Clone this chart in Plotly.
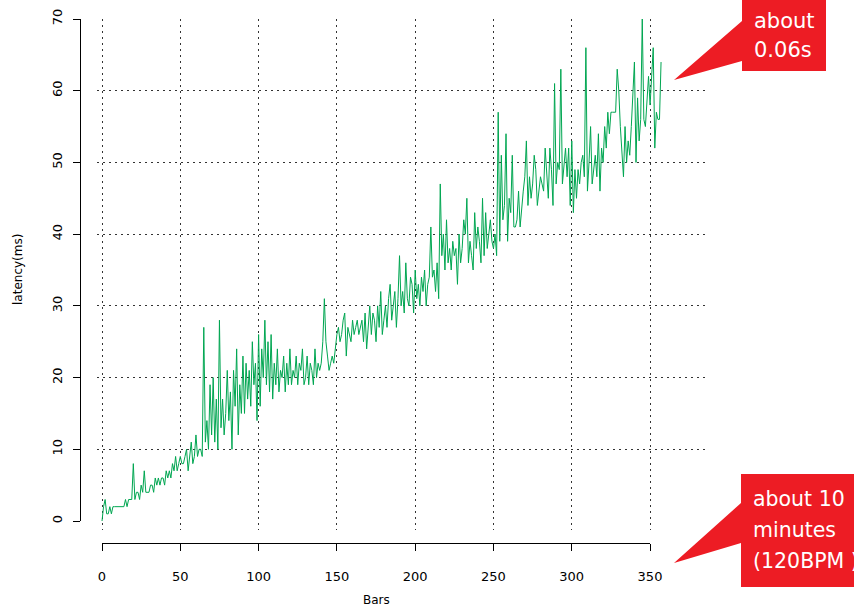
import plotly.graph_objects as go

# ---------------- data ----------------
latency = [
    0, 2, 3, 1, 1, 2, 1, 2, 2, 2,
    2, 2, 2, 2, 2, 3, 2, 3, 3, 3,
    8, 3, 4, 4, 3, 5, 4, 7, 4, 4,
    4, 5, 5, 4, 6, 5, 6, 5, 6, 6,
    5, 7, 6, 7, 6, 8, 7, 9, 7, 8,
    9, 8, 8, 9, 10, 7, 9, 11, 8, 9,
    12, 9, 10, 10, 9, 27, 11, 14, 10, 19,
    12, 20, 11, 17, 10, 28, 13, 17, 12, 15,
    21, 14, 18, 10, 21, 16, 24, 12, 19, 15,
    23, 15, 22, 17, 21, 16, 25, 19, 22, 14,
    26, 16, 24, 20, 28, 19, 25, 18, 26, 17,
    22, 19, 24, 18, 21, 20, 23, 18, 22, 19,
    24, 19, 21, 20, 23, 19, 22, 21, 24, 19,
    20, 23, 19, 22, 21, 19, 24, 20, 22, 21,
    22, 25, 31, 25, 23, 21, 22, 23, 22, 24,
    26, 27, 25, 26, 28, 29, 23, 27, 26, 25,
    28, 26, 27, 28, 26, 27, 28, 25, 29, 24,
    27, 30, 26, 29, 28, 25, 30, 27, 32, 26,
    28, 30, 27, 31, 33, 28, 30, 32, 27, 31,
    37, 30, 32, 29, 36, 31, 30, 34, 33, 29,
    35, 31, 33, 30, 34, 32, 35, 30, 33, 34,
    41, 34, 35, 32, 36, 31, 47, 37, 40, 35,
    42, 36, 38, 35, 39, 37, 38, 33, 40, 36,
    38, 42, 40, 45, 36, 39, 37, 35, 43, 38,
    41, 39, 36, 45, 37, 43, 38, 40, 42, 39,
    38, 40, 37, 57, 39, 51, 42, 44, 54, 39,
    45, 43, 51, 41, 41, 42, 46, 41, 44, 46,
    48, 53, 44, 48, 45, 47, 51, 49, 44, 46,
    48, 47, 46, 52, 49, 45, 52, 49, 44, 61,
    47, 50, 49, 63, 47, 50, 52, 48, 52, 44,
    53, 43, 49, 45, 49, 47, 50, 51, 48, 66,
    46, 50, 55, 47, 49, 51, 48, 54, 46, 52,
    50, 55, 52, 57, 54, 57, 57, 57, 57, 63,
    60, 55, 52, 48, 55, 50, 53, 51, 55, 60,
    64, 50, 59, 53, 56, 70, 56, 55, 59, 62,
    58, 62, 66, 52, 57, 56, 56, 64,
]
bars = list(range(len(latency)))

x_ticks = [0, 50, 100, 150, 200, 250, 300, 350]
y_ticks = [0, 10, 20, 30, 40, 50, 60, 70]
grid_y = [10, 20, 30, 40, 50, 60]

callout_top = ["about", "0.06s"]
callout_bottom = ["about 10", "minutes", "(120BPM )"]

# ---------------- geometry (pixels) ----------------
W, H = 854, 613
ML, MR, MT, MB = 80, 148, 19, 70
PW, PH = W - ML - MR, H - MT - MB


def fx(px):
    return (px - ML) / PW


def fy(py):
    return (H - MB - py) / PH


GREEN = "#00a651"
RED = "#ed1c24"
FONT = "DejaVu Sans"

fig = go.Figure()
fig.add_trace(go.Scatter(
    x=bars, y=latency, mode="lines",
    line=dict(color=GREEN, width=1), hoverinfo="skip", showlegend=False,
    xaxis="x", yaxis="y",
))
# helper (invisible) trace so that the detached axes are drawn
fig.add_trace(go.Scatter(
    x=[bars[0]], y=[latency[0]], mode="markers", marker=dict(opacity=0),
    hoverinfo="skip", showlegend=False, xaxis="x2", yaxis="y2",
))

grid_common = dict(showgrid=True, gridcolor="#333333", gridwidth=1,
                   griddash="2px,4px", zeroline=False, showline=False,
                   showticklabels=False, ticks="", fixedrange=True)

fig.update_layout(
    width=W, height=H,
    margin=dict(l=ML, r=MR, t=MT, b=MB, pad=0, autoexpand=False),
    paper_bgcolor="white", plot_bgcolor="rgba(0,0,0,0)",
    showlegend=False,
    font=dict(family=FONT, size=13, color="black"),
    xaxis=dict(domain=[fx(97), 1.0], range=[-3.19, 385.7],
               tickvals=x_ticks, **grid_common),
    yaxis=dict(domain=[fy(530), fy(19)], range=[-1.255, 70.0],
               tickvals=grid_y, **grid_common),
    xaxis2=dict(domain=[fx(102), fx(650)], range=[0, 350], anchor="free",
                position=0, showline=True, linecolor="black", linewidth=1,
                ticks="outside", ticklen=7, tickcolor="black", tickwidth=1,
                tickvals=x_ticks, showgrid=False, zeroline=False,
                tickfont=dict(family=FONT, size=13, color="black"),
                ticklabelstandoff=14, fixedrange=True),
    yaxis2=dict(domain=[fy(521), fy(19)], range=[0, 70], anchor="free",
                position=0, showline=True, linecolor="black", linewidth=1,
                ticks="outside", ticklen=7, tickcolor="black", tickwidth=1,
                tickvals=y_ticks, showgrid=False, zeroline=False,
                tickangle=-90,
                tickfont=dict(family=FONT, size=13, color="black"),
                ticklabelstandoff=6, fixedrange=True),
)

# axis titles
fig.add_annotation(text="Bars", xref="paper", yref="paper",
                   x=fx(376), y=fy(600), showarrow=False,
                   xanchor="center", yanchor="middle",
                   font=dict(family=FONT, size=12, color="black"))
fig.add_annotation(text="latency(ms)", xref="paper", yref="paper",
                   x=fx(18), y=fy(270), showarrow=False, textangle=-90,
                   xanchor="center", yanchor="middle",
                   font=dict(family=FONT, size=12, color="black"))


def poly(points):
    return "M " + " L ".join(f"{fx(a):.5f},{fy(b):.5f}" for a, b in points) + " Z"


# callout shapes
fig.add_shape(type="path", xref="paper", yref="paper",
              path=poly([(674, 80), (742, 61), (742, 71), (826, 71),
                         (826, 0), (742, 0), (742, 21)]),
              fillcolor=RED, line=dict(width=0), layer="above")
fig.add_shape(type="path", xref="paper", yref="paper",
              path=poly([(674, 563), (741, 543), (741, 587), (870, 587),
                         (870, 474), (741, 474), (741, 503)]),
              fillcolor=RED, line=dict(width=0), layer="above")

for i, line in enumerate(callout_top):
    fig.add_annotation(text=line, xref="paper", yref="paper",
                       x=fx(752), y=fy(21 + 29 * i), showarrow=False,
                       xanchor="left", yanchor="middle",
                       font=dict(family=FONT, size=21, color="white"))
for i, line in enumerate(callout_bottom):
    fig.add_annotation(text=line, xref="paper", yref="paper",
                       x=fx(751), y=fy(499 + 31 * i), showarrow=False,
                       xanchor="left", yanchor="middle",
                       font=dict(family=FONT, size=20.5, color="white"))

fig.write_html(
    "out.html",
    config={"displayModeBar": False},
    post_script="document.body.style.margin='0';document.body.style.overflow='hidden';",
)
